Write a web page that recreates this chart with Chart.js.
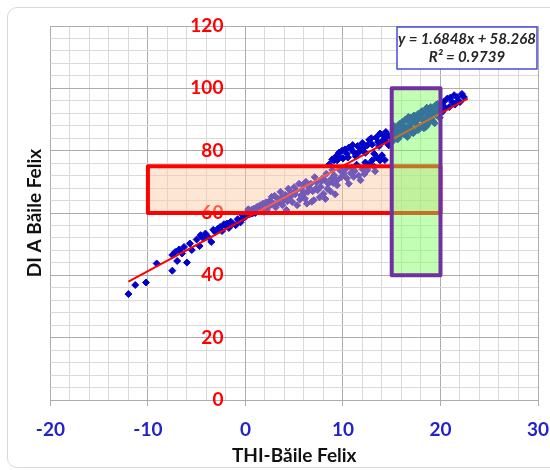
<!DOCTYPE html>
<html>
<head>
<meta charset="utf-8">
<script src="https://cdn.jsdelivr.net/npm/chart.js@4.4.1/dist/chart.umd.min.js"></script>
<style>
  body { margin: 0; background: #ffffff; }
  #wrap { position: relative; width: 550px; height: 470px; overflow: hidden; }
  #frame { position: absolute; left: 7px; top: 7px; width: 600px; height: 459px; border: 1px solid #d9d9d9; border-radius: 10px; }
  #chartOfIndices { position: absolute; left: 0; top: 0; }
</style>
</head>
<body>
<div id="wrap">
  <div id="frame"></div>
  <canvas id="chartOfIndices" width="550" height="470"></canvas>
</div>
<script>
'use strict';

// THI values (x)
let thiValues = [
  -12.0, -11.3, -10.2, -9.1, -7.5, -7.5, -7.2, -7.0, -6.8, -6.5, -6.3, -6.0, -5.7, -5.5, -5.0, -4.7, -4.6, -4.3, -4.1, -3.8,
  -3.5, -3.3, -3.1, -2.8, -2.6, -2.4, -2.2, -2.0, -1.9, -1.7, -1.5, -1.3, -1.0, -0.8, -0.7, -0.5, -0.3, -0.2, 0.0, 0.2,
  0.4, 0.6, 0.85, 1.0, 1.2, 1.5, 1.7, 1.9, 2.1, 2.3, 2.5, 2.7, 2.9, 3.1, 3.3, 3.6, 3.8, 3.9, 4.1, 4.2,
  4.4, 4.6, 4.8, 5.0, 5.1, 5.3, 5.5, 5.6, 5.8, 6.0, 6.2, 6.3, 6.5, 6.7, 6.8, 7.0, 7.1, 7.2, 7.4, 7.6,
  7.8, 7.9, 8.0, 8.2, 8.3, 8.5, 8.7, 8.9, 9.1, 9.2,
  8.6, 8.9, 9.1, 9.4, 9.6, 9.7, 10.0, 10.2, 10.4, 10.6, 10.8, 11.1, 11.3, 11.5, 11.8, 12.0, 12.3, 12.5, 12.7, 13.0,
  13.2, 13.4, 13.6, 13.8, 14.0, 14.2, 14.4, 14.6, 14.7, 14.9,
  9.4, 9.4, 9.7, 10.1, 10.4, 10.6, 10.9, 11.1, 11.4, 11.8, 12.0, 12.3, 12.5, 12.8, 13.0, 13.2, 13.5, 13.8, 14.0, 14.3,
  15.0, 15.1, 15.2, 15.3, 15.4, 15.5, 15.6, 15.7, 15.8, 15.9, 15.9, 16.0, 16.1, 16.2, 16.3, 16.4, 16.5, 16.6, 16.6, 16.8,
  16.9, 17.0, 17.1, 17.2, 17.3, 17.3, 17.5, 17.6, 17.7, 17.8, 17.9, 18.0, 18.1, 18.2, 18.3, 18.4, 18.5, 18.6, 18.6, 18.7,
  18.8, 18.9, 19.0, 19.1, 19.2, 19.3, 19.4, 19.5, 19.6, 19.8, 19.9,
  20.0, 20.2, 20.3, 20.5, 20.7, 20.9, 21.0, 21.2, 21.4, 21.5, 21.7, 21.8, 22.0, 22.2, 22.4,
  0.3, 0.7, 1.1, 1.4, 1.8, 2.2, 2.6, 3.0, 3.4, 3.7,
  4.3, 4.7, 5.2, 5.7, 5.9, 6.1, 6.4, 6.9, 7.3, 7.7, 8.1, 8.4, 8.8, 9.0,
  9.8, 10.3, 10.8, 11.2, 11.6, 12.2, 12.6, 13.3,
  9.3, 9.9, 10.5, 11.0, 11.6, 12.1, 12.9, 13.7, 14.1, 14.5,
  15.2, 15.6, 16.0, 16.3, 16.7, 17.0, 17.4, 17.7, 18.0, 18.3, 18.6, 18.9, 19.2, 19.5, 19.7, 19.9
];

// DI values (y), same order as thiValues
let diValues = [
  34.0, 36.9, 37.7, 43.8, 41.5, 46.5, 47.5, 44.6, 48.3, 47.0, 49.1, 44.1, 50.2, 48.1, 51.5, 49.4, 52.9, 51.8, 53.4, 52.2,
  50.7, 54.6, 53.9, 55.0, 55.5, 54.2, 56.4, 55.8, 56.6, 55.2, 57.2, 56.5, 56.1, 58.0, 57.7, 57.0, 59.3, 58.4, 58.8, 60.4,
  59.5, 61.0, 61.4, 60.0, 62.0, 62.5, 61.2, 60.4, 63.4, 62.0, 64.0, 65.2, 63.0, 61.8, 64.6, 66.8, 62.5, 64.1, 65.8, 61.0,
  67.8, 65.2, 63.5, 68.3, 66.0, 62.5, 69.4, 64.3, 67.4, 66.2, 70.0, 63.0, 68.2, 69.4, 63.6, 64.1, 71.5, 67.8, 67.3, 65.0,
  70.2, 71.1, 66.2, 64.5, 72.6, 69.4, 67.0, 73.8, 72.1, 66.0,
  75.6, 77.2, 76.9, 76.9, 79.4, 78.0, 77.5, 80.4, 79.0, 81.0, 80.6, 79.6, 78.2, 81.5, 80.1, 82.5, 79.3, 81.7, 83.5, 82.0,
  79.0, 84.2, 82.8, 85.5, 83.0, 83.3, 86.0, 84.6, 81.7, 84.4,
  68.9, 70.5, 73.7, 72.6, 71.1, 69.4, 74.5, 71.6, 75.5, 70.5, 74.0, 76.2, 73.7, 75.3, 76.9, 74.8, 77.8, 76.9, 78.5, 77.0,
  85.2, 83.0, 86.8, 84.5, 87.5, 85.6, 86.5, 84.0, 88.6, 88.1, 84.9, 86.9, 89.3, 85.5, 87.8, 90.0, 86.4, 89.7, 84.4, 88.0,
  90.6, 87.2, 89.0, 85.6, 91.3, 86.0, 88.6, 89.7, 91.8, 87.0, 87.6, 90.4, 92.7, 88.5, 92.4, 89.4, 87.6, 90.8, 88.1, 93.3,
  91.5, 89.2, 94.0, 90.2, 92.0, 92.9, 88.8, 94.6, 91.4, 93.5, 90.6,
  94.6, 92.5, 95.6, 93.8, 96.7, 94.0, 97.0, 95.6, 97.8, 94.8, 97.2, 96.0, 95.6, 98.2, 97.2,
  61.2, 59.8, 61.5, 60.8, 63.0, 61.0, 62.6, 65.5, 63.2, 65.0,
  63.8, 66.5, 67.2, 65.6, 69.0, 64.6, 66.8, 67.0, 69.8, 68.4, 70.6, 67.8, 71.0, 69.6,
  71.5, 74.2, 72.8, 73.5, 72.0, 72.5, 75.6, 73.4,
  78.2, 80.0, 77.8, 81.8, 79.4, 80.8, 84.0, 81.5, 85.0, 82.6,
  88.0, 83.6, 88.4, 85.2, 90.8, 85.8, 90.2, 86.6, 91.5, 87.2, 93.8, 92.2, 89.6, 91.9, 95.0, 92.8
];

// trend line end points (from the chart's linear fit)
let trendX = [-12.0, 22.8];
let trendY = [38.0, 96.7];

// highlighted zones: [xMin, xMax, yMin, yMax]
let comfortZone = [-10, 20, 60, 75];
let summerZone = [15, 20, 40, 100];

// axis ranges and steps: [min, max, grid step, label step]
let xRange = [-20, 30, 2, 10];
let yRange = [0, 120, 4, 20];

let equationLines = ['y = 1.6848x + 58.268', 'R² = 0.9739'];

// DOM references
let ctx = document.getElementById('chartOfIndices');

let scatterPoints = [];
for (let i = 0; i < thiValues.length; i++) {
  scatterPoints.push({ x: thiValues[i], y: diValues[i] });
}

let trendPoints = [];
for (let i = 0; i < trendX.length; i++) {
  trendPoints.push({ x: trendX[i], y: trendY[i] });
}

function isMajor(value, every) {
  return Math.abs(value % every) < 0.001;
}

// zones and equation box drawn over the points
let overlayPlugin = {
  id: 'overlay',
  afterDatasetsDraw(chart) {
    let c = chart.ctx;
    let xs = chart.scales.x;
    let ys = chart.scales.y;

    function zoneRect(zone) {
      let left = xs.getPixelForValue(zone[0]);
      let right = xs.getPixelForValue(zone[1]);
      let top = ys.getPixelForValue(zone[3]);
      let bottom = ys.getPixelForValue(zone[2]);
      return [left, top, right - left, bottom - top];
    }

    c.save();
    c.lineJoin = 'round';

    let r1 = zoneRect(comfortZone);
    c.fillStyle = 'rgba(251, 200, 160, 0.45)';
    c.fillRect(r1[0], r1[1], r1[2], r1[3]);
    c.strokeStyle = '#ff0000';
    c.lineWidth = 4;
    c.strokeRect(r1[0], r1[1], r1[2], r1[3]);

    let r2 = zoneRect(summerZone);
    c.fillStyle = 'rgba(120, 255, 90, 0.45)';
    c.fillRect(r2[0], r2[1], r2[2], r2[3]);
    c.strokeStyle = '#7030a0';
    c.lineWidth = 4;
    c.strokeRect(r2[0], r2[1], r2[2], r2[3]);

    // equation box, top right corner of the plot
    let area = chart.chartArea;
    let boxW = 140;
    let boxH = 42;
    let boxX = area.right - boxW - 1;
    let boxY = area.top + 1;
    c.fillStyle = '#ffffff';
    c.fillRect(boxX, boxY, boxW, boxH);
    c.strokeStyle = '#4a4ae0';
    c.lineWidth = 1.5;
    c.strokeRect(boxX, boxY, boxW, boxH);
    c.fillStyle = '#262626';
    c.font = 'italic bold 15px Lato';
    c.textAlign = 'center';
    c.textBaseline = 'middle';
    c.fillText(equationLines[0], boxX + boxW / 2, boxY + 12);
    c.fillText(equationLines[1], boxX + boxW / 2, boxY + 30);
    c.restore();
  }
};

let chartObject = {
  type: 'scatter',
  data: {
    datasets: [{
      label: 'trend',
      data: trendPoints,
      showLine: true,
      borderColor: '#ff0000',
      borderWidth: 2,
      pointRadius: 0
    },
    {
      label: 'DI',
      data: scatterPoints,
      pointStyle: 'rectRot',
      pointRadius: 3.5,
      backgroundColor: '#0000cc',
      borderColor: '#0000cc',
      borderWidth: 1
    }]
  },
  options: {
    responsive: false,
    animation: false,
    layout: {
      padding: { left: 23.6, right: 12, top: 26, bottom: 0 }
    },
    plugins: {
      legend: { display: false },
      tooltip: { enabled: false }
    },
    scales: {
      x: {
        type: 'linear',
        position: 'bottom',
        min: xRange[0],
        max: xRange[1],
        ticks: {
          stepSize: xRange[2],
          autoSkip: false,
          maxRotation: 0,
          padding: 0,
          color: '#2323c8',
          font: { family: 'Lato', size: 19, weight: 'bold' },
          callback: function (value) {
            return isMajor(value, xRange[3]) ? String(value) : '';
          }
        },
        grid: {
          tickLength: 18,
          // only the first few pixels of each tick mark show
          tickBorderDash: [5, 40],
          color: function (context) {
            return isMajor(context.tick.value, xRange[3]) ? '#acacac' : '#dadada';
          },
          tickColor: function (context) {
            return isMajor(context.tick.value, xRange[3]) ? '#acacac' : 'rgba(0,0,0,0)';
          }
        },
        border: { color: '#acacac' },
        title: {
          display: true,
          text: 'THI-Băile Felix',
          color: '#111111',
          font: { family: 'Lato', size: 19, weight: 'bold' },
          padding: { top: 3.8, bottom: 2.6 }
        }
      },
      y: {
        type: 'linear',
        position: { x: 0 },
        min: yRange[0],
        max: yRange[1],
        ticks: {
          stepSize: yRange[2],
          autoSkip: false,
          padding: 0,
          color: '#ff0000',
          font: { family: 'Lato', size: 19, weight: 'bold' },
          // figure spaces keep the labels clear of the x = 0 line
          callback: function (value) {
            return isMajor(value, yRange[3]) ? String(value) + '\u2007\u2007' : '';
          }
        },
        grid: {
          drawTicks: false,
          color: function (context) {
            return isMajor(context.tick.value, yRange[3]) ? '#acacac' : '#dadada';
          }
        },
        border: { color: '#acacac' }
      },
      yTitle: {
        type: 'linear',
        position: 'left',
        min: yRange[0],
        max: yRange[1],
        ticks: { display: false },
        grid: { display: false, drawTicks: false },
        border: { display: false },
        title: {
          display: true,
          text: 'DI A Băile Felix',
          color: '#111111',
          font: { family: 'Lato', size: 19, weight: 'bold' },
          padding: { top: 0, bottom: 4 }
        }
      }
    }
  },
  plugins: [overlayPlugin]
};

const chartOfIndices = new Chart(ctx, chartObject);
</script>
</body>
</html>
